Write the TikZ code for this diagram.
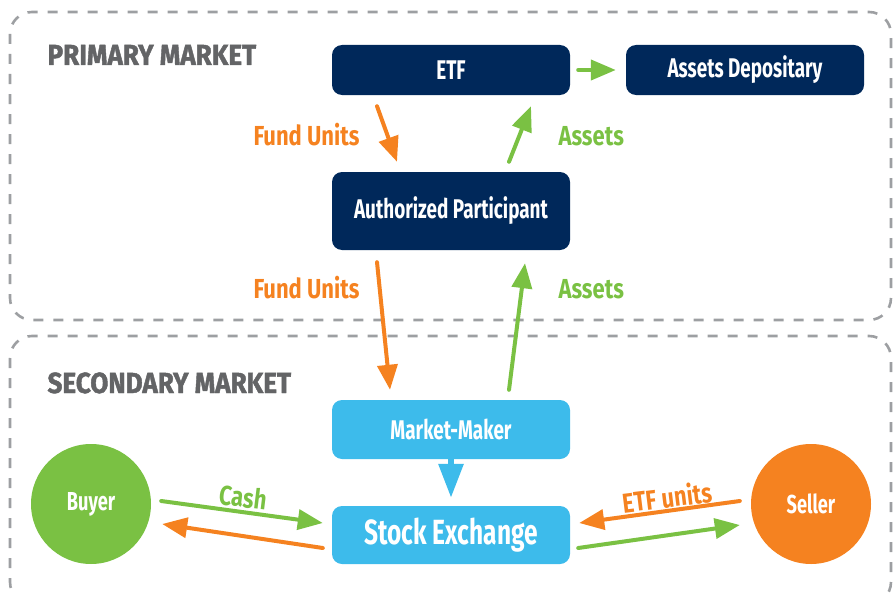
\documentclass[tikz,border=0pt]{standalone}
\usepackage{fontspec}
\setmainfont{Fira Sans}[FakeStretch=0.7]
\newfontfamily\labelfont{Fira Sans}[FakeStretch=0.8]
\newfontfamily\headfont{Fira Sans}[FakeStretch=0.9, FakeBold=1.5]
\usepackage{tikz}
\usetikzlibrary{arrows.meta}
\definecolor{navy}{HTML}{00285A}
\definecolor{skyblue}{HTML}{3DBBEB}
\definecolor{leafgreen}{HTML}{7AC143}
\definecolor{tangerine}{HTML}{F58220}
\definecolor{headgray}{HTML}{636466}
\definecolor{dashgray}{HTML}{9D9FA2}
\begin{document}
\begin{tikzpicture}[x=1pt, y=1pt,
  market/.style = {draw=dashgray, line width=2.6pt, dash pattern=on 10pt off 10pt, rounded corners=22pt},
  head/.style = {anchor=base west, text=headgray, font=\headfont\bfseries\fontsize{29}{29}\selectfont},
  darkbox/.style = {fill=navy, text=white, rounded corners=10pt, minimum width=238pt, font=\bfseries\fontsize{27}{27}\selectfont},
  lightbox/.style = {fill=skyblue, text=white, rounded corners=10pt, minimum width=238pt, font=\bfseries\fontsize{27}{27}\selectfont},
  party/.style = {circle, minimum size=120pt, text=white, font=\bfseries\fontsize{26}{26}\selectfont},
  flow/.style = {line width=4pt, line cap=round, -{Triangle[length=25pt, width=20pt]}},
  tag/.style = {font=\labelfont\bfseries\fontsize{27.5}{27.5}\selectfont}]
\useasboundingbox (0,0) rectangle (894,-594);
\begin{scope}
\clip (0,0) rectangle (894,-594);
\draw [market] (10,-12) rectangle (891,-320);
\draw [market] (10,-336) rectangle (891,-604);
\end{scope}
\node [head] (pm) at (44,-65) {PRIMARY MARKET};
\node [head] (sm) at (44,-393) {SECONDARY MARKET};
\node [darkbox, minimum height=50pt] (etf) at (451,-70) {ETF};
\node [darkbox, minimum height=50pt] (ad) at (745,-70) {Assets Depositary};
\node [darkbox, minimum height=78pt] (ap) at (451,-211) {Authorized Participant};
\node [lightbox, minimum height=59pt] (mm) at (451,-429.5) {Market-Maker};
\node [lightbox, minimum height=58pt, font=\bfseries\fontsize{35}{35}\selectfont] (se) at (451,-535) {Stock Exchange};
\node [party, fill=leafgreen] (buyer) at (91,-504) {Buyer};
\node [party, fill=tangerine] (seller) at (811,-504) {Seller};
\draw [flow, leafgreen, shorten <=8pt, shorten >=10pt] (etf.east) -- (ad.west);
\draw [flow, tangerine] ([xshift=-74pt, yshift=-11pt]etf.south) -- ([xshift=-54pt, yshift=10pt]ap.north);
\draw [flow, leafgreen] ([xshift=58pt, yshift=10pt]ap.north) -- ([xshift=80pt, yshift=-11pt]etf.south);
\draw [flow, tangerine] ([xshift=-74pt, yshift=-12pt]ap.south) -- ([xshift=-61pt, yshift=10pt]mm.north);
\draw [flow, leafgreen] ([xshift=58pt, yshift=10pt]mm.north) -- ([xshift=74pt, yshift=-13pt]ap.south);
\draw [skyblue, line width=6pt, -{Triangle[length=34pt, width=24pt]}] (mm.south) -- ([yshift=8pt]se.north);
\draw [flow, leafgreen] ([xshift=10pt, yshift=3pt]buyer.east) -- ([xshift=-9pt, yshift=12pt]se.west);
\draw [flow, tangerine] ([xshift=-9pt, yshift=-13pt]se.west) -- ([xshift=11pt, yshift=-20pt]buyer.east);
\draw [flow, tangerine] ([xshift=-11pt, yshift=3pt]seller.west) -- ([xshift=9pt, yshift=12pt]se.east);
\draw [flow, leafgreen] ([xshift=8pt, yshift=-13pt]se.east) -- ([xshift=-11pt, yshift=-21pt]seller.west);
\node [tag, anchor=base west, text=tangerine] (fu1) at (250,-145) {Fund Units};
\node [tag, anchor=base west, text=leafgreen] (as1) at (555,-145) {Assets};
\node [tag, anchor=base west, text=tangerine] (fu2) at (250,-298) {Fund Units};
\node [tag, anchor=base west, text=leafgreen] (as2) at (555,-298) {Assets};
\node [tag, text=leafgreen, rotate=-7] (cash) at (243,-497) {Cash};
\node [tag, text=tangerine, rotate=7] (units) at (667,-497) {ETF units};
\end{tikzpicture}
\end{document}
